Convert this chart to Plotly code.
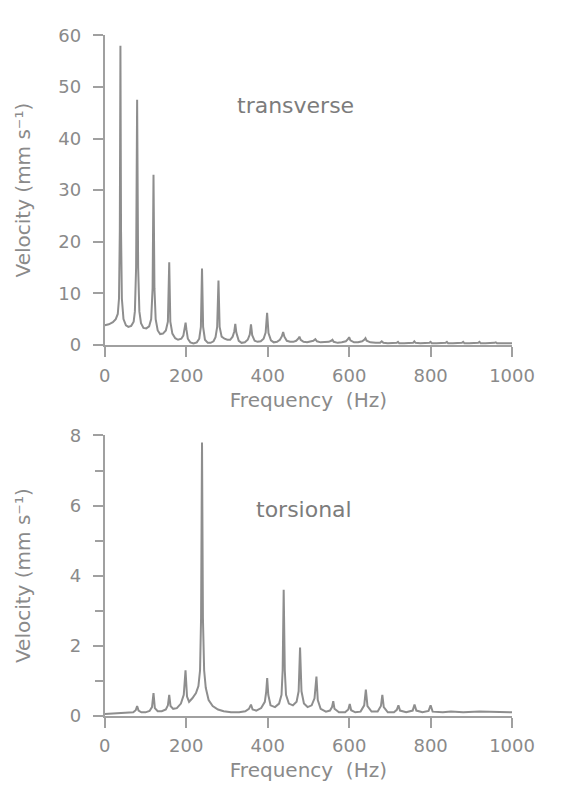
import plotly.graph_objects as go

# Transverse vibration spectrum: frequency (Hz) and velocity (mm/s)
trans_freq = [0, 10, 20, 27, 32, 35, 37, 38.5, 40, 42, 46, 52, 58, 65, 71, 74, 77, 79.5, 82, 85,
              89, 95, 102, 109, 114, 117.5, 119.7, 122, 125, 130, 136, 143, 150, 155, 158.3, 161,
              166, 173, 180, 188, 193, 196.5, 198.5, 200.5, 204, 210, 218, 226, 232, 236, 238.8,
              241.5, 246, 253, 260, 267, 272, 276, 279.2, 282, 287, 294, 301, 308, 314, 318, 320.5,
              323, 329, 336, 344, 351, 356, 359, 362, 368, 375, 383, 390, 395, 398.6, 402, 408, 415,
              423, 430, 435, 438, 441, 447, 455, 463, 470, 475, 478, 481, 488, 497, 505, 512, 517,
              521, 530, 540, 550, 556, 559, 562, 572, 582, 592, 597, 600, 603, 612, 622, 632, 637,
              640, 643, 652, 665, 676, 680, 684, 695, 710, 717, 720, 723, 735, 750, 757, 760, 763,
              775, 790, 797, 800, 803, 815, 830, 837, 840, 843, 855, 870, 877, 880, 883, 895, 910,
              917, 920, 923, 935, 950, 957, 960, 963, 975, 1000]
trans_vel = [3.8, 4.0, 4.4, 5.0, 6.0, 9.0, 22, 58.0, 22, 9, 5, 3.8, 3.5, 3.7, 4.5, 6.5, 15, 47.5, 15, 6.5,
             4.2, 3.3, 3.2, 3.6, 5, 11, 33.0, 11, 5, 2.8, 2.1, 2.2, 2.8, 4.5, 16.0, 4.5,
             2.2, 1.3, 1.0, 1.2, 1.8, 3.0, 4.3, 3.0, 1.2, 0.5, 0.3, 0.5, 1.2, 3.5, 14.8,
             3.5, 1.0, 0.4, 0.4, 0.7, 1.5, 3.5, 12.5, 3.5, 1.6, 1.2, 1.0, 1.0, 1.6, 2.6, 4.1,
             2.4, 0.8, 0.4, 0.5, 1.0, 2.0, 4.0, 1.9, 0.8, 0.6, 0.7, 1.2, 2.4, 6.2, 2.3, 0.9, 0.5,
             0.6, 1.0, 1.7, 2.5, 1.6, 0.8, 0.6, 0.6, 0.8, 1.2, 1.6, 1.0, 0.6, 0.5, 0.6, 0.8, 1.1,
             0.7, 0.5, 0.5, 0.6, 0.8, 1.0, 0.6, 0.4, 0.5, 0.7, 1.1, 1.5, 0.9, 0.5, 0.5, 0.7, 1.0,
             1.3, 0.8, 0.5, 0.4, 0.4, 0.7, 0.4, 0.3, 0.3, 0.4, 0.6, 0.3, 0.3, 0.3, 0.4, 0.7, 0.4,
             0.3, 0.3, 0.4, 0.6, 0.3, 0.3, 0.3, 0.4, 0.6, 0.3, 0.3, 0.3, 0.4, 0.6, 0.3, 0.3, 0.3,
             0.4, 0.6, 0.3, 0.3, 0.3, 0.4, 0.5, 0.3, 0.3, 0.3]

# Torsional vibration spectrum
tors_freq = [0, 20, 40, 60, 70, 76, 79.5, 83, 90, 100, 110, 116, 119.7, 123, 130, 140, 150, 155, 158.3,
             161.5, 168, 177, 187, 194, 198.3, 202, 207, 215, 224, 230, 234, 236.5, 238.8, 241, 244,
             248, 255, 265, 278, 292, 310, 330, 345, 354, 359, 363, 372, 384, 393, 396.5, 398.8,
             401.5, 407, 418, 428, 434, 436.8, 439.3, 442, 445, 452, 462, 471, 476, 479.5, 483, 489,
             498, 508, 515, 519.7, 523, 530, 543, 553, 558, 561, 564, 575, 590, 598, 601.5, 605, 615,
             628, 637, 641, 645, 655, 670, 678, 681.5, 685, 695, 710, 717, 721, 725, 740, 756, 760.5,
             765, 780, 795, 800, 805, 830, 850, 880, 920, 960, 1000]
tors_vel = [0.05, 0.06, 0.07, 0.08, 0.1, 0.16, 0.28, 0.15, 0.1, 0.1, 0.14, 0.25, 0.65, 0.22, 0.13, 0.13,
            0.18, 0.3, 0.6, 0.28, 0.2, 0.22, 0.35, 0.6, 1.3, 0.55, 0.4, 0.5, 0.65, 0.85, 1.3, 2.8, 7.8,
            2.8, 1.3, 0.8, 0.45, 0.28, 0.18, 0.13, 0.1, 0.1, 0.13, 0.2, 0.32, 0.18, 0.15, 0.22, 0.4,
            0.7, 1.08, 0.6, 0.3, 0.25, 0.35, 0.6, 1.3, 3.6, 1.3, 0.6, 0.35, 0.3, 0.4, 0.7, 1.95, 0.7,
            0.35, 0.25, 0.3, 0.5, 1.12, 0.45, 0.2, 0.12, 0.15, 0.25, 0.42, 0.2, 0.1, 0.1, 0.18, 0.34,
            0.16, 0.1, 0.12, 0.3, 0.75, 0.28, 0.12, 0.12, 0.28, 0.6, 0.25, 0.1, 0.1, 0.17, 0.3, 0.15,
            0.1, 0.15, 0.32, 0.15, 0.1, 0.14, 0.3, 0.12, 0.1, 0.12, 0.1, 0.12, 0.1, 0.1]

x_ticks = [0, 200, 400, 600, 800, 1000]
trans_ticks = [0, 10, 20, 30, 40, 50, 60]
tors_ticks = [0, 2, 4, 6, 8]
tors_minor = [1, 3, 5, 7]

W, H = 574, 793
GREY = "#8e8e8e"
AXIS = "#a0a0a0"
TEXT = "#8a8a8a"
FONT = "DejaVu Sans"


def px_x(p):
    return p / W


def px_y(p):
    return (H - p) / H


fig = go.Figure()
fig.add_trace(go.Scatter(x=trans_freq, y=trans_vel, mode="lines",
                         line=dict(color=GREY, width=2), xaxis="x", yaxis="y",
                         showlegend=False, hoverinfo="skip"))
fig.add_trace(go.Scatter(x=tors_freq, y=tors_vel, mode="lines",
                         line=dict(color=GREY, width=2), xaxis="x2", yaxis="y2",
                         showlegend=False, hoverinfo="skip"))

axis_common = dict(showline=True, linecolor=AXIS, linewidth=2, ticks="outside",
                   ticklen=10, tickwidth=2, tickcolor=AXIS, showgrid=False,
                   zeroline=False, tickfont=dict(family=FONT, size=18, color=TEXT))
title_font = dict(family=FONT, size=20, color=TEXT)
x_title = dict(text="Frequency  (Hz)", font=title_font, standoff=8)
y_title_text = "Velocity (mm s\u207b\u00b9)"

xdom = [px_x(104), px_x(533)]
fig.update_layout(
    width=W, height=H,
    margin=dict(l=0, r=0, t=0, b=0),
    paper_bgcolor="white", plot_bgcolor="white",
    xaxis=dict(domain=xdom, range=[0, 1000], tickvals=x_ticks, anchor="y",
               title=x_title, ticklabelstandoff=3, **axis_common),
    yaxis=dict(domain=[px_y(343), px_y(25)], range=[0, 60], tickvals=trans_ticks,
               anchor="x", ticklabelstandoff=8,
               title=dict(text=y_title_text, font=title_font, standoff=22),
               **axis_common),
    xaxis2=dict(domain=xdom, range=[0, 1000], tickvals=x_ticks, anchor="y2",
                title=x_title, ticklabelstandoff=3, **axis_common),
    yaxis2=dict(domain=[px_y(724), px_y(436)], range=[0, 8], tickvals=tors_ticks,
                anchor="x2", ticklabelstandoff=8,
                title=dict(text=y_title_text, font=title_font, standoff=34),
                minor=dict(tickvals=tors_minor, ticks="outside", ticklen=8,
                           tickwidth=2, tickcolor=AXIS),
                **axis_common),
)

label_font = dict(family=FONT, size=22, color="#7c7c7c")
fig.add_annotation(text="transverse", x=px_x(305), y=px_y(97), font=label_font)
fig.add_annotation(text="torsional", x=px_x(314), y=px_y(512), font=label_font)
fig.update_annotations(xref="paper", yref="paper", xanchor="center",
                       yanchor="middle", showarrow=False)

fig.write_html("out.html", config={"displayModeBar": False})
